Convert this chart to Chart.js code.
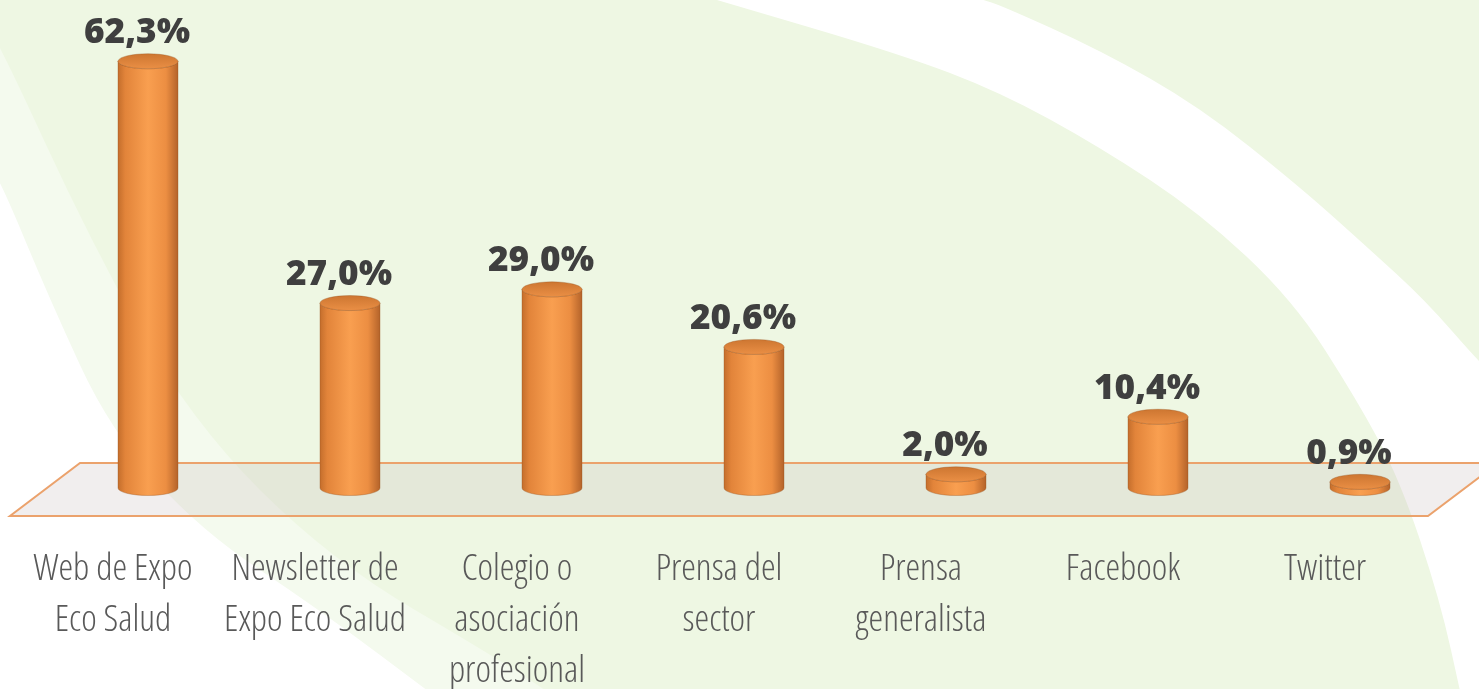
<!DOCTYPE html>
<html><head><meta charset="utf-8">
<script src="https://cdn.jsdelivr.net/npm/chart.js@4/dist/chart.umd.min.js"></script>
<style>html,body{margin:0;padding:0;background:#fff;overflow:hidden}#wrap{width:1479px;height:689px;position:relative}</style>
</head><body><div id="wrap"><canvas id="c" width="1479" height="689"></canvas></div>
<script>
// ---- data ----
const categories = [["Web de Expo","Eco Salud"],["Newsletter de","Expo Eco Salud"],["Colegio o","asociación","profesional"],["Prensa del","sector"],["Prensa","generalista"],["Facebook"],["Twitter"]];
const values = [62.3, 27.0, 29.0, 20.6, 2.0, 10.4, 0.9];
const valueLabels = ["62,3%","27,0%","29,0%","20,6%","2,0%","10,4%","0,9%"];
const yMin = 0, yMax = 70;

// ---- font detection ----
const mctx = document.createElement('canvas').getContext('2d');
function mw(font, txt){ mctx.font = '10px monospace'; mctx.font = font; return mctx.measureText(txt).width; }
const sample = 'Web de Expo';
let tickFam = "'Open Sans', sans-serif", tickWeight = '300';
const wn = mw("300 40px 'Open Sans'", sample);
const wc = mw("300 condensed 40px 'Open Sans'", sample);
let wSel = wn;
if (wc < wn * 0.92) { tickWeight = '300 condensed'; wSel = wc; }
else {
  const wl = mw("40px 'Liberation Sans Narrow', monospace", sample);
  if (Math.abs(wl - mw('40px monospace', sample)) > 1) { tickFam = "'Liberation Sans Narrow', sans-serif"; tickWeight = '400'; wSel = wl; }
  else {
    const wd = mw("300 condensed 40px 'DejaVu Sans'", sample);
    if (wd < mw("300 40px 'DejaVu Sans'", sample) * 0.95) { tickFam = "'DejaVu Sans', sans-serif"; tickWeight = '300 condensed'; wSel = wd; }
  }
}
let tickSize = Math.max(24, Math.min(37, 40 * 159 / wSel));
const valFont = sz => "800 " + sz + "px 'Open Sans', sans-serif";
const valW = mw(valFont(40), '62,3%');
const valSize = Math.max(30, Math.min(38, 40 * 106 / valW));

// ---- decoration helpers ----
function smooth(ctx, pts, first){
  if (first) ctx.moveTo(pts[0][0], pts[0][1]); else ctx.lineTo(pts[0][0], pts[0][1]);
  for (let i = 1; i < pts.length - 1; i++){
    const mx = (pts[i][0] + pts[i+1][0]) / 2, my = (pts[i][1] + pts[i+1][1]) / 2;
    ctx.quadraticCurveTo(pts[i][0], pts[i][1], mx, my);
  }
  const l = pts[pts.length-1]; ctx.lineTo(l[0], l[1]);
}
const bgPlugin = { id:'bg', beforeDraw(chart){
  const ctx = chart.ctx, W = chart.width, H = chart.height;
  ctx.save();
  ctx.fillStyle = '#EEF7E3'; ctx.fillRect(0,0,W,H);
  ctx.fillStyle = '#F4FAEE';
  ctx.beginPath(); smooth(ctx, [[-5,40],[0,45],[90,240],[190,420],[330,560],[500,660],[560,700]], true);
  ctx.lineTo(-5,700); ctx.closePath(); ctx.fill();
  ctx.fillStyle = '#FFFFFF';
  ctx.beginPath(); smooth(ctx, [[-5,175],[0,180],[50,300],[110,430],[200,530],[320,610],[440,700]], true);
  ctx.lineTo(-5,700); ctx.closePath(); ctx.fill();
  ctx.beginPath();
  smooth(ctx, [[700,-5],[717,0],[900,54],[1000,92],[1100,147],[1200,213],[1293,300],[1357,400],[1400,480],[1440,600],[1462,700]], true);
  ctx.lineTo(1490,700); ctx.lineTo(1490,372);
  smooth(ctx, [[1490,372],[1479,362],[1425,300],[1367,247],[1300,187],[1200,107],[1100,50],[1000,5],[983,0],[970,-5]], false);
  ctx.closePath(); ctx.fill();
  ctx.restore();
}};
// category labels sit 35px left of the bars (3D perspective): shift the label axis
const labelShiftPlugin = { id:'labelShift', afterLayout(chart){
  const s = chart.scales.x; s.left -= 35; s.right -= 35; s.configure();
}};
const floorPlugin = { id:'floor', beforeDatasetsDraw(chart){
  const ctx = chart.ctx, {left, right} = chart.chartArea;
  const z = chart.scales.y.getPixelForValue(0);
  const t = z - 25, b = z + 28, off = 35;
  ctx.save();
  ctx.beginPath();
  ctx.moveTo(left + off - 2, t); ctx.lineTo(right + off + 2, t);
  ctx.lineTo(right - off + 2, b); ctx.lineTo(left - off - 2, b); ctx.closePath();
  ctx.fillStyle = 'rgba(200,188,188,0.25)'; ctx.fill();
  ctx.strokeStyle = '#EBA26C'; ctx.lineWidth = 2; ctx.lineJoin = 'miter'; ctx.stroke();
  ctx.restore();
}};
const cylPlugin = { id:'cyl', afterDatasetsDraw(chart){
  const ctx = chart.ctx, meta = chart.getDatasetMeta(0);
  ctx.save();
  meta.data.forEach((el, i) => {
    const p = el.getProps(['x','y','base','width'], true);
    const x = p.x, top = p.y, bot = p.base, rx = p.width / 2, ry = p.width * 0.125;
    const g = ctx.createLinearGradient(x - rx, 0, x + rx, 0);
    g.addColorStop(0, '#C46E2C'); g.addColorStop(0.12, '#E2843A'); g.addColorStop(0.5, '#F99F50');
    g.addColorStop(0.8, '#EC8E42'); g.addColorStop(1, '#B4632A');
    ctx.beginPath();
    ctx.moveTo(x - rx, top); ctx.lineTo(x - rx, bot);
    ctx.ellipse(x, bot, rx, ry, 0, Math.PI, 0, true);
    ctx.lineTo(x + rx, top);
    ctx.ellipse(x, top, rx, ry, 0, 0, Math.PI, false);
    ctx.closePath();
    ctx.fillStyle = g; ctx.fill();
    ctx.strokeStyle = 'rgba(150,80,30,0.35)'; ctx.lineWidth = 1; ctx.stroke();
    const gt = ctx.createLinearGradient(0, top - ry, 0, top + ry);
    gt.addColorStop(0, '#CD7631'); gt.addColorStop(1, '#EA8F45');
    ctx.beginPath(); ctx.ellipse(x, top, rx, ry, 0, 0, Math.PI * 2);
    ctx.fillStyle = gt; ctx.fill(); ctx.stroke();
    ctx.fillStyle = '#3F3F3F';
    ctx.font = valFont(valSize.toFixed(1));
    ctx.textAlign = 'center'; ctx.textBaseline = 'alphabetic';
    ctx.fillText(valueLabels[i], x - 11, top - 18);
  });
  ctx.restore();
}};

new Chart(document.getElementById('c'), {
  type: 'bar',
  data: { labels: categories, datasets: [{ data: values, xAxisID: 'xb', backgroundColor: 'rgba(0,0,0,0)', borderWidth: 0, barPercentage: 0.297, categoryPercentage: 1 }] },
  options: {
    responsive: false, animation: false, devicePixelRatio: 1,
    layout: { padding: { left: 47, right: 18, top: 8.5, bottom: 0 } },
    plugins: { legend: { display: false }, tooltip: { enabled: false } },
    scales: {
      y: { display: false, min: yMin, max: yMax },
      xb: { type: 'category', position: 'bottom', display: false, offset: true },
      x: {
        type: 'category', position: 'bottom', offset: true,
        grid: { display: false, drawTicks: false }, border: { display: false },
        afterFit(s){ s.height = 201; s.paddingLeft = 0; s.paddingRight = 0; },
        ticks: { color: '#595959', padding: 56, maxRotation: 0, autoSkip: false,
          font: { family: tickFam, weight: tickWeight, size: tickSize, lineHeight: '51px' } }
      }
    }
  },
  plugins: [bgPlugin, labelShiftPlugin, floorPlugin, cylPlugin]
});
</script></body></html>
